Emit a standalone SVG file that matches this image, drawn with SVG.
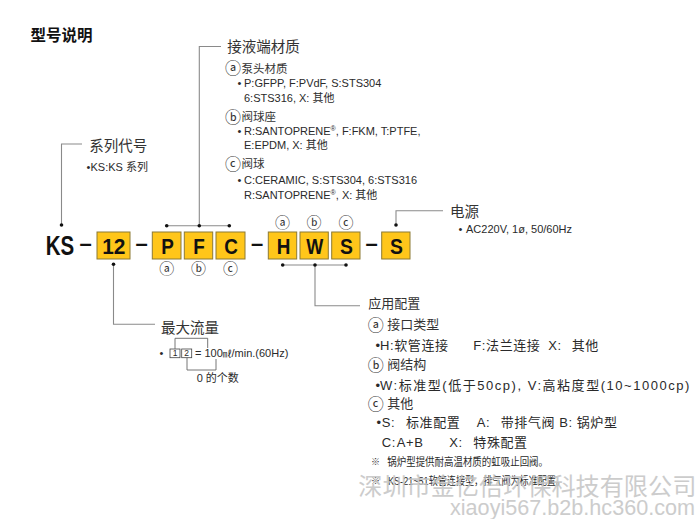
<svg xmlns="http://www.w3.org/2000/svg" width="700" height="519" viewBox="0 0 700 519">
<defs>
<style>
.t{font-family:"Liberation Sans","Noto Sans CJK SC",sans-serif;fill:#2a2a2a;font-size:11px}
.h{font-family:"Noto Sans CJK SC",sans-serif;fill:#333;font-size:14.5px}
.h2{font-family:"Noto Sans CJK SC",sans-serif;fill:#333;font-size:13px}
.s{font-family:"Noto Sans CJK SC",sans-serif;fill:#333;font-size:11.5px}
.c{font-family:"Noto Sans CJK SC",sans-serif;fill:#333;text-anchor:middle}
.b{font-family:"Liberation Sans","Noto Sans CJK SC",sans-serif;fill:#2a2a2a;font-size:13px;letter-spacing:0.6px}
.n{font-family:"Liberation Sans","Noto Sans CJK SC",sans-serif;fill:#2a2a2a;font-size:11px}
.code{font-family:"Liberation Sans",sans-serif;font-weight:bold;fill:#111;font-size:22px;text-anchor:middle}
.box{fill:#FFC61A;stroke:#8c7a35;stroke-width:1}
.ln{fill:none;stroke:#8a8a8a;stroke-width:1.1}
.dot{fill:#111}
.sb{fill:#fff;stroke:#444;stroke-width:0.8}
.wm{font-family:"Noto Sans CJK SC",sans-serif;fill:#c4c4c4;font-size:24px;opacity:0.85}
.wm2{font-family:"Liberation Sans",sans-serif;fill:#c4c4c4;font-size:21.5px;opacity:0.85}
</style>
</defs>
<rect width="700" height="519" fill="#fff"/>

<text id="title" x="30.5" y="41" style="font-family:'Noto Sans CJK SC',sans-serif;font-weight:bold;font-size:15.5px;fill:#111">型号说明</text>

<g id="connectors">
<polyline class="ln" points="61.5,225 61.5,144 82,144"/>
<polyline class="ln" points="113.5,264 113.5,324.3 155,324.3"/>
<line class="ln" x1="166.7" y1="225.7" x2="229.3" y2="225.7"/>
<polyline class="ln" points="199.3,225.7 199.3,46.5 221,46.5"/>
<line class="ln" x1="282.7" y1="265" x2="346" y2="265"/>
<polyline class="ln" points="315,265 315,305.7 360,305.7"/>
<polyline class="ln" points="396,225 396,210.7 443,210.7"/>
<circle class="dot" cx="61.5" cy="225" r="1.8"/>
<circle class="dot" cx="113.5" cy="264.3" r="1.8"/>
<circle class="dot" cx="166.7" cy="225.7" r="1.8"/>
<circle class="dot" cx="199.3" cy="225.7" r="1.8"/>
<circle class="dot" cx="229.3" cy="225.7" r="1.8"/>
<circle class="dot" cx="282.7" cy="265" r="1.8"/>
<circle class="dot" cx="315" cy="265" r="1.8"/>
<circle class="dot" cx="346" cy="265" r="1.8"/>
<circle class="dot" cx="396" cy="225" r="1.8"/>
</g>

<g id="code">
<text class="code" transform="translate(60 254.5) scale(0.76 1)" style="font-size:27px">KS</text>
<text class="code" x="85.5" y="250.5">–</text>
<rect class="box" x="97" y="232" width="33" height="27"/>
<text class="code" transform="translate(113.8 254.3) scale(0.95 1)">12</text>
<text class="code" x="141.5" y="250.5">–</text>
<rect class="box" x="152.3" y="232" width="28.7" height="27"/>
<text class="code" transform="translate(167.5 254.3) scale(0.86 1)">P</text>
<rect class="box" x="184.3" y="232" width="28.4" height="27"/>
<text class="code" transform="translate(199 254.3) scale(0.86 1)">F</text>
<rect class="box" x="216" y="232" width="29" height="27"/>
<text class="code" transform="translate(231 254.3) scale(0.86 1)">C</text>
<text class="code" x="257" y="250.5">–</text>
<rect class="box" x="268.3" y="232" width="28.4" height="27"/>
<text class="code" transform="translate(283.5 254.3) scale(0.86 1)">H</text>
<rect class="box" x="300" y="232" width="28.3" height="27"/>
<text class="code" transform="translate(314.8 254.3) scale(0.82 1)">W</text>
<rect class="box" x="331.7" y="232" width="28.3" height="27"/>
<text class="code" transform="translate(346.5 254.3) scale(0.88 1)">S</text>
<text class="code" x="371.7" y="250.5">–</text>
<rect class="box" x="381.7" y="232" width="28.3" height="27"/>
<text class="code" transform="translate(396.5 254.3) scale(0.88 1)">S</text>
<g class="c" style="font-size:15px">
<text x="166.7" y="274">ⓐ</text>
<text x="198.5" y="274">ⓑ</text>
<text x="230.5" y="274">ⓒ</text>
<text x="282.5" y="227.5">ⓐ</text>
<text x="314" y="227.5">ⓑ</text>
<text x="346" y="227.5">ⓒ</text>
</g>
</g>

<g id="series">
<text class="h" x="89.3" y="150.5">系列代号</text>
<text class="t" x="86.5" y="170.5">•</text>
<text class="t" x="90.5" y="170.5">KS:KS 系列</text>
</g>

<g id="wetted">
<text class="h" x="227.3" y="51.5">接液端材质</text>
<text class="c" x="233" y="74" style="font-size:16px">ⓐ</text>
<text class="s" x="241.5" y="72.5">泵头材质</text>
<text class="t" x="237.5" y="87.3">•</text>
<text class="t" x="244" y="87.3">P:GFPP, F:PVdF, S:STS304</text>
<text class="t" x="244" y="101.7">6:STS316, X: 其他</text>
<text class="c" x="233" y="122.5" style="font-size:16px">ⓑ</text>
<text class="s" x="241.5" y="121">阀球座</text>
<text class="t" x="237.5" y="135">•</text>
<text class="t" x="244" y="135">R:SANTOPRENE<tspan font-size="7" dy="-4">®</tspan><tspan dy="4">, F:FKM, T:PTFE,</tspan></text>
<text class="t" x="244" y="149.3">E:EPDM, X: 其他</text>
<text class="c" x="233" y="169.5" style="font-size:16px">ⓒ</text>
<text class="s" x="241.5" y="168">阀球</text>
<text class="t" x="237.5" y="184">•</text>
<text class="t" x="244" y="184">C:CERAMIC, S:STS304, 6:STS316</text>
<text class="t" x="244" y="199.3">R:SANTOPRENE<tspan font-size="7" dy="-4">®</tspan><tspan dy="4">, X: 其他</tspan></text>
</g>

<g id="power">
<text class="h" x="450" y="216.5">电源</text>
<text class="t" x="458.5" y="232.5">•</text>
<text class="t" x="466" y="232.5">AC220V, 1ø, 50/60Hz</text>
</g>

<g id="flow">
<text class="h" x="161" y="332.5">最大流量</text>
<text class="t" x="159.5" y="357">•</text>
<rect class="sb" x="170" y="349" width="10" height="8.7"/>
<text class="t" x="175" y="356.4" style="font-size:8.5px;text-anchor:middle">1</text>
<rect class="sb" x="181.7" y="349" width="10" height="8.7"/>
<text class="t" x="186.7" y="356.4" style="font-size:8.5px;text-anchor:middle">2</text>
<text class="t" x="195" y="357">= <tspan x="204.5">100</tspan><tspan font-size="9">㎖</tspan><tspan x="231.5">/min.(60Hz)</tspan></text>
<polyline class="ln" style="stroke:#666;stroke-width:0.9" points="175,349 175,338.3 207.7,338.3 207.7,348"/>
<polyline class="ln" style="stroke:#666;stroke-width:0.9" points="187,357.7 187,370 216,370 216,359"/>
<text class="t" x="196.7" y="381.7">0 的个数</text>
</g>

<g id="application">
<text class="h2" x="368.3" y="308.3">应用配置</text>
<text class="c" x="375.8" y="331" style="font-size:16px">ⓐ</text>
<text class="h2" x="387.3" y="329.3">接口类型</text>
<text class="b" x="375.5" y="350">•</text>
<text class="b" y="350"><tspan x="380">H:软管连接</tspan><tspan x="473.3">F:法兰连接</tspan><tspan x="548.3">X:</tspan><tspan x="571.7">其他</tspan></text>
<text class="c" x="375.8" y="371" style="font-size:16px">ⓑ</text>
<text class="h2" x="387.3" y="369.3">阀结构</text>
<text class="b" x="375.5" y="390">•</text>
<text class="b" x="380" y="390" textLength="310" lengthAdjust="spacing">W:标准型(低于50cp), V:高粘度型(10~1000cp)</text>
<text class="c" x="375.8" y="410" style="font-size:16px">ⓒ</text>
<text class="h2" x="387.3" y="408.3">其他</text>
<text class="b" x="376.5" y="426.7">•</text>
<text class="b" y="426.7"><tspan x="381.7">S:</tspan><tspan x="406">标准配置</tspan><tspan x="476.7">A:</tspan><tspan x="500.7">带排气阀</tspan><tspan x="559.3">B:</tspan><tspan x="576.7">锅炉型</tspan></text>
<text class="b" y="446.7"><tspan x="381.7">C:</tspan><tspan x="396.7">A+B</tspan><tspan x="449.3">X:</tspan><tspan x="473.3">特殊配置</tspan></text>
<text class="c" x="375.5" y="465" style="font-size:9px">※</text>
<text class="n" x="387.3" y="466" textLength="160.7" lengthAdjust="spacingAndGlyphs">锅炉型提供耐高温材质的虹吸止回阀。</text>
<text class="c" x="375.5" y="484" style="font-size:9px">※</text>
<text class="n" x="388" y="485" textLength="177" lengthAdjust="spacingAndGlyphs">KS-21~51软管连接型，排气阀为标准配置。</text>
</g>

<g id="watermark">
<text class="wm" x="358.3" y="495" textLength="338" lengthAdjust="spacingAndGlyphs">深圳市金亿倍环保科技有限公司</text>
<text class="wm2" x="450" y="515" textLength="245" lengthAdjust="spacingAndGlyphs">xiaoyi567.b2b.hc360.com</text>
</g>
</svg>
